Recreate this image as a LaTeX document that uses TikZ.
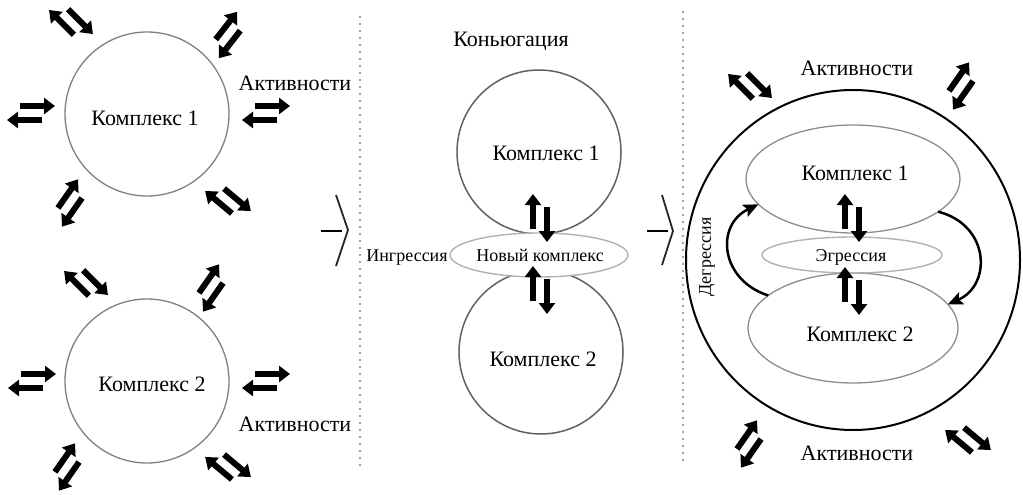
\documentclass[tikz,border=0pt]{standalone}
\usepackage{fontspec}
\setmainfont{Liberation Serif}
\usetikzlibrary{arrows.meta,shapes.geometric}
\begin{document}
\begin{tikzpicture}[x=1pt,y=-1pt,
  arr/.style={line width=6pt,-{Triangle[width=16pt,length=11pt]}},
  big/.style={font=\fontsize{22}{26}\selectfont, anchor=base, inner sep=0pt},
  small/.style={font=\fontsize{18}{22}\selectfont, anchor=base, inner sep=0pt},
  ring/.style={circle, draw=black!50, line width=1.3pt, inner sep=0pt, outer sep=0pt, minimum size=164pt},
  mring/.style={circle, draw=black!62, line width=1.5pt, inner sep=0pt, outer sep=0pt, minimum size=164pt},
  oval/.style={ellipse, draw=black!45, line width=1.3pt, inner sep=0pt, outer sep=0pt},
  thin oval/.style={ellipse, draw=black!30, line width=1.4pt, inner sep=0pt, outer sep=0pt},
  dotline/.style={line width=2.2pt, line cap=round, dash pattern=on 0pt off 7pt, draw=black!50},
  chev/.style={line width=1.8pt, draw=black!85},
  curv/.style={line width=2.5pt, -{Stealth[length=15pt,width=13pt,inset=3pt]}},
  pics/dbl/.style={code={
    \draw[arr] (-11,-7) -- (24,-7);
    \draw[arr] (11,7) -- (-24,7);
  }}
]
\useasboundingbox (0,0) rectangle (1023,495);

% separators
\draw[dotline] (360,17) -- (360,470);
\draw[dotline] (683,12) -- (683,465);

% chevrons
\draw[chev] (336,195) -- (348,230) -- (336,266);
\draw[line width=2.8pt] (321,231) -- (342,231);
\draw[chev] (662,195) -- (673,231) -- (662,265);
\draw[line width=2.8pt] (647,231) -- (668,231);

% ---------- left section ----------
\node[ring] (c1) at (147,114) {};
\node[big] (t1) at (145,125) {Комплекс 1};
\node[ring] (c2) at (147,381) {};
\node[big] (t2) at (152,391) {Комплекс 2};
\node[big] (a1) at (295,90) {Активности};
\node[big] (a2) at (295,431) {Активности};

\pic[rotate=-45] at (71,22) {dbl};
\pic[rotate=52] at (228,35) {dbl};
\pic at (31,113) {dbl};
\pic at (266,113) {dbl};
\pic[rotate=55] at (70,203) {dbl};
\pic[rotate=-40] at (228,201) {dbl};

\pic[rotate=-45] at (86,283) {dbl};
\pic[rotate=55] at (211,288) {dbl};
\pic at (32,381) {dbl};
\pic at (266,381) {dbl};
\pic[rotate=55] at (67,467) {dbl};
\pic[rotate=-40] at (228,467) {dbl};

% ---------- middle section ----------
\node[big] (conj) at (511,47) {Коньюгация};
\node[mring] (m1) at (539,152) {};
\node[mring] (m2) at (541,352) {};
\node[thin oval, minimum width=178pt, minimum height=44pt, fill=white] (nk) at (539,255) {};
\node[big] (mt1) at (546,160) {Комплекс 1};
\node[big] (mt2) at (543,366) {Комплекс 2};
\node[small] (ing) at (407,261) {Ингрессия};
\node[small] (nkt) at (540,261) {Новый комплекс};
\pic[rotate=-90] at (540,218) {dbl};
\pic[rotate=-90] at (540,290) {dbl};

% ---------- right section ----------
\node[ellipse, draw=black, line width=2pt, inner sep=0pt, outer sep=0pt,
      minimum width=334pt, minimum height=340pt] (outer) at (853,260) {};
\node[oval, minimum width=214pt, minimum height=108pt] (k1r) at (853,179) {};
\node[oval, minimum width=210pt, minimum height=110pt] (k2r) at (853,328) {};
\node[thin oval, minimum width=180pt, minimum height=36pt] (eg) at (852,255) {};
\node[big] (ra1) at (857,75) {Активности};
\node[big] (ra2) at (857,460) {Активности};
\node[big] (rk1) at (855,180) {Комплекс 1};
\node[big] (rk2) at (860,341) {Комплекс 2};
\node[small] (egt) at (851,261) {Эгрессия};
\node[small, anchor=center, rotate=90] (deg) at (707,257) {Дегрессия};

\pic[rotate=-90] at (852,218) {dbl};
\pic[rotate=-90] at (852,291) {dbl};

\pic[rotate=-45] at (750,86) {dbl};
\pic[rotate=55] at (961,86) {dbl};
\pic[rotate=55] at (749,444) {dbl};
\pic[rotate=-40] at (968,440) {dbl};

\draw[curv] (k2r.159) .. controls (720,280) and (715,225) .. (k1r.195);
\draw[curv] (k1r.-21) .. controls (990,225) and (992,285) .. (k2r.14);
\end{tikzpicture}
\end{document}
